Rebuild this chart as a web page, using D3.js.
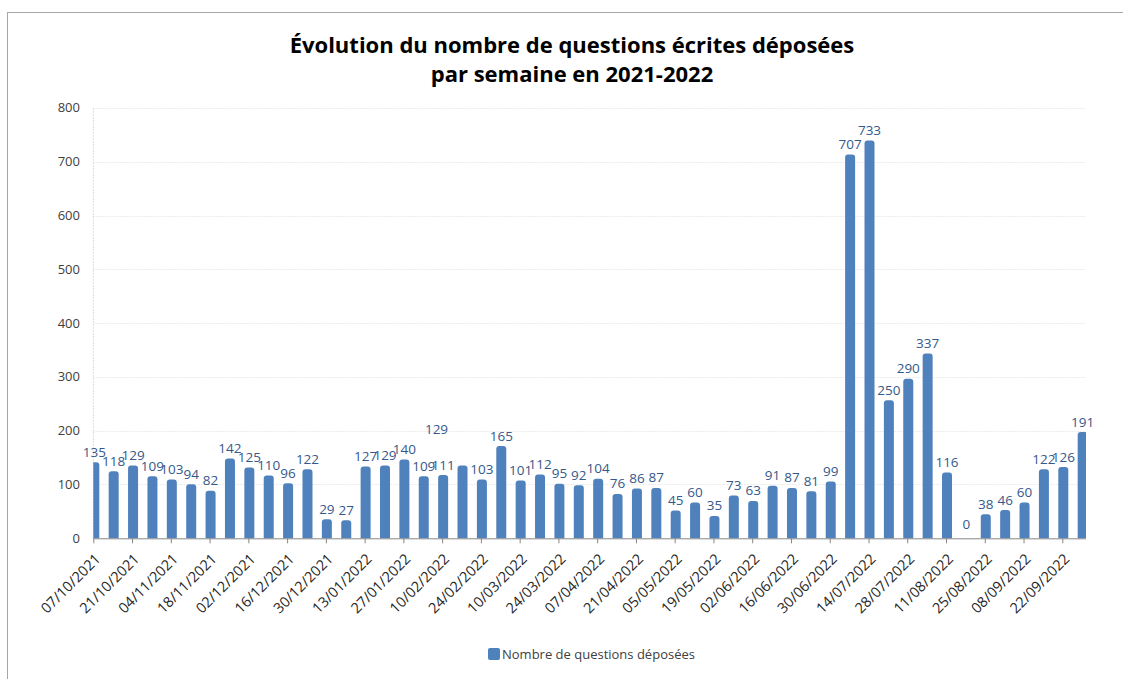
<!DOCTYPE html>
<html>
<head>
<meta charset="utf-8">
<script src="https://cdn.jsdelivr.net/npm/d3@7"></script>
<style>
body { margin: 0; background: #fff; }
svg { display: block; }
text { font-family: "Open Sans", "Noto Sans", sans-serif; }
</style>
</head>
<body>
<svg id="chart" width="1123" height="679"></svg>
<script>
// weeks (Thursday of each week)
var weeks = ["07/10/2021","14/10/2021","21/10/2021","28/10/2021","04/11/2021","11/11/2021","18/11/2021","25/11/2021",
  "02/12/2021","09/12/2021","16/12/2021","23/12/2021","30/12/2021","06/01/2022","13/01/2022","20/01/2022",
  "27/01/2022","03/02/2022","10/02/2022","17/02/2022","24/02/2022","03/03/2022","10/03/2022","17/03/2022",
  "24/03/2022","31/03/2022","07/04/2022","14/04/2022","21/04/2022","28/04/2022","05/05/2022","12/05/2022",
  "19/05/2022","26/05/2022","02/06/2022","09/06/2022","16/06/2022","23/06/2022","30/06/2022","07/07/2022",
  "14/07/2022","21/07/2022","28/07/2022","04/08/2022","11/08/2022","18/08/2022","25/08/2022","01/09/2022",
  "08/09/2022","15/09/2022","22/09/2022","29/09/2022"];

// questions deposited per week
var questions = [135,118,129,109,103,94,82,142,125,110,96,122,29,27,127,129,140,109,111,129,103,165,101,112,
  95,92,104,76,86,87,45,60,35,73,63,91,87,81,99,707,733,250,290,337,116,0,38,46,60,122,126,191];

var yTicks = [0,100,200,300,400,500,600,700,800];

var seriesName = "Nombre de questions déposées";
var titleLines = ["Évolution du nombre de questions écrites déposées", "par semaine en 2021-2022"];

var svg = d3.select("#chart");
var plotLeft = 93.3, plotRight = 1086, plotTop = 107.9, plotBottom = 538.3;
var step = 19.38;
var barColor = "#4f81bd";

// outer frame
svg.append("rect")
  .attr("x", 7.5).attr("y", 12.5)
  .attr("width", 1200).attr("height", 700)
  .attr("fill", "none").attr("stroke", "#a6a6a6");

// title
svg.append("g").selectAll("text")
  .data(titleLines)
  .enter().append("text")
  .attr("x", 572)
  .attr("y", function(d, i) { return 53 + i * 29; })
  .attr("text-anchor", "middle")
  .style("font-size", "22px")
  .style("font-weight", "bold")
  .attr("fill", "#000")
  .text(function(d) { return d; });

var x = d3.scalePoint().domain(weeks).range([plotLeft + 1, plotLeft + 1 + step * (weeks.length - 1)]);
var y = d3.scaleLinear().domain([0, 800]).range([plotBottom, plotTop]);

// gridlines
svg.append("g").selectAll("line")
  .data(yTicks.slice(1))
  .enter().append("line")
  .attr("x1", plotLeft).attr("x2", plotRight)
  .attr("y1", function(d) { return Math.round(y(d)) + 0.5; })
  .attr("y2", function(d) { return Math.round(y(d)) + 0.5; })
  .attr("stroke", "#ececec")
  .attr("stroke-dasharray", "2,1");

// y axis (faint dotted line + labels)
svg.append("line")
  .attr("x1", plotLeft).attr("x2", plotLeft)
  .attr("y1", plotTop).attr("y2", plotBottom)
  .attr("stroke", "#dcdcdc")
  .attr("stroke-dasharray", "2,1");

svg.append("g").selectAll("text")
  .data(yTicks)
  .enter().append("text")
  .attr("x", 80)
  .attr("y", function(d) { return y(d); })
  .attr("dy", "0.35em")
  .attr("text-anchor", "end")
  .style("font-size", "13px")
  .attr("fill", "#404040")
  .text(function(d) { return d; });

// bars
svg.append("clipPath").attr("id", "plotclip")
  .append("rect").attr("x", plotLeft).attr("y", 0).attr("width", plotRight - plotLeft).attr("height", plotBottom);

var barData = questions.map(function(v, i) { return {week: weeks[i], value: v}; })
  .filter(function(d) { return d.value > 0; });

svg.append("g").attr("clip-path", "url(#plotclip)")
  .selectAll("rect")
  .data(barData)
  .enter().append("rect")
  .attr("x", function(d) { return x(d.week) - 5; })
  .attr("y", function(d) { return y(d.value) - 3.5; })
  .attr("width", 10)
  .attr("height", function(d) { return plotBottom - y(d.value) + 6; })
  .attr("rx", 3)
  .attr("fill", barColor);

// x axis
var xAxis = d3.axisBottom(x)
  .tickValues(weeks.filter(function(d, i) { return i % 2 === 0; }))
  .tickSize(5)
  .tickSizeOuter(0);

var gx = svg.append("g")
  .attr("transform", "translate(-1," + plotBottom + ")")
  .call(xAxis);
gx.select(".domain").remove();
gx.selectAll("line").attr("stroke", "#868686");
gx.selectAll("text")
  .attr("x", 0).attr("y", 0).attr("dy", "0.35em")
  .attr("transform", "translate(4,18) rotate(-45)")
  .attr("text-anchor", "end")
  .style("font-size", "14.5px")
  .style("font-family", "\"Open Sans\", sans-serif")
  .attr("fill", "#262626");

svg.append("line")
  .attr("x1", plotLeft).attr("x2", plotRight)
  .attr("y1", plotBottom + 0.5).attr("y2", plotBottom + 0.5)
  .attr("stroke", "#868686");

// data labels (one label in the original sits off its bar)
var labelNudge = {19: [-26, -26]};
svg.append("g").selectAll("text")
  .data(questions)
  .enter().append("text")
  .attr("x", function(d, i) { return x(weeks[i]) + (labelNudge[i] ? labelNudge[i][0] : 0); })
  .attr("y", function(d, i) { return y(d) - 9 + (labelNudge[i] ? labelNudge[i][1] : 0); })
  .attr("text-anchor", "middle")
  .style("font-size", "13.5px")
  .attr("fill", "#35598a")
  .text(function(d) { return d; });

// legend
var legend = svg.append("g").attr("transform", "translate(488,648)");
legend.append("rect")
  .attr("width", 12).attr("height", 12).attr("rx", 2)
  .attr("fill", barColor);
legend.append("text")
  .attr("x", 14).attr("y", 11)
  .style("font-size", "13px")
  .attr("fill", "#404040")
  .text(seriesName);
</script>
</body>
</html>
